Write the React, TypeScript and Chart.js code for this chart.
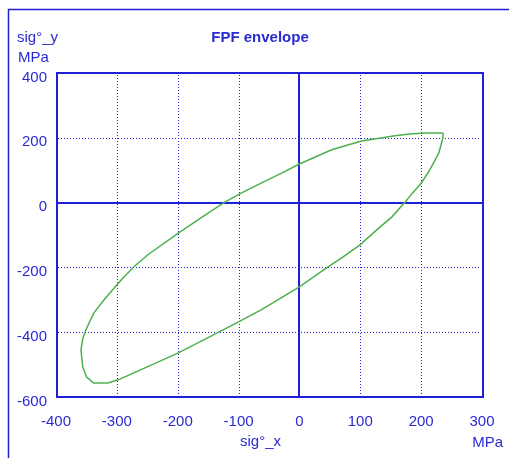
import React, { useEffect, useRef } from "react";
import { Chart, registerables } from "chart.js";

Chart.register(...registerables);

// Envelope outline (closed loop), MPa
const sigX = [
  236, 236, 233, 229, 214, 201, 186, 173, 152, 127, 99, 70, 44, 0, -63, -100, -150, -199, -250, -298,
  -315, -338, -350, -356, -359, -356, -351, -338, -321, -293, -272, -249, -199, -160, -124, -95, -63,
  -30, 0, 53, 102, 157, 181, 209, 236,
];
const sigY = [
  215, 203, 180, 153, 100, 62, 30, 0, -44, -84, -131, -170, -202, -260, -331, -368, -417, -464, -507,
  -547, -557, -557, -538, -507, -455, -420, -393, -341, -300, -239, -198, -161, -94, -45, 0, 30, 60,
  90, 119, 163, 190, 206, 212, 215, 215,
];
const xTicks = [-400, -300, -200, -100, 0, 100, 200, 300];
const yTicks = [-600, -400, -200, 0, 200, 400];
const titleText = "FPF envelope";
const xTitle = "sig°_x";
const yTitle = "sig°_y";
const unitText = "MPa";

const BLUE = "#1f1fd6";
const TEXT = "#2a2ad2";
const GREEN = "#4cb04c";
const FONT = "'Liberation Sans', Arial, sans-serif";

export default function App() {
  const ref = useRef<HTMLCanvasElement>(null);

  useEffect(() => {
    document.body.style.margin = "0";
    const canvas = ref.current;
    if (!canvas) return;

    const decor = {
      id: "decor",
      beforeDatasetsDraw(chart: any) {
        const { ctx, chartArea: a, scales } = chart;
        ctx.save();
        ctx.strokeStyle = BLUE;
        xTicks.forEach((v) => {
          if (v === xTicks[0] || v === xTicks[xTicks.length - 1]) return;
          const p = scales.x.getPixelForValue(v);
          if (v === 0) {
            ctx.setLineDash([]);
            ctx.lineWidth = 2;
            ctx.beginPath();
            ctx.moveTo(Math.round(p), a.top);
            ctx.lineTo(Math.round(p), a.bottom);
            ctx.stroke();
          } else {
            ctx.setLineDash([1, 2]);
            ctx.lineWidth = 1;
            ctx.beginPath();
            ctx.moveTo(Math.round(p) + 0.5, a.top + 2);
            ctx.lineTo(Math.round(p) + 0.5, a.bottom - 2);
            ctx.stroke();
          }
        });
        yTicks.forEach((v) => {
          if (v === yTicks[0] || v === yTicks[yTicks.length - 1]) return;
          const p = scales.y.getPixelForValue(v);
          if (v === 0) {
            ctx.setLineDash([]);
            ctx.lineWidth = 2;
            ctx.beginPath();
            ctx.moveTo(a.left, Math.round(p));
            ctx.lineTo(a.right, Math.round(p));
            ctx.stroke();
          } else {
            ctx.setLineDash([1, 2]);
            ctx.lineWidth = 1;
            ctx.beginPath();
            ctx.moveTo(a.left + 2, Math.round(p) + 0.5);
            ctx.lineTo(a.right - 3, Math.round(p) + 0.5);
            ctx.stroke();
          }
        });
        ctx.restore();
      },
      afterDraw(chart: any) {
        const { ctx, chartArea: a } = chart;
        ctx.save();
        ctx.strokeStyle = BLUE;
        ctx.lineWidth = 2;
        ctx.setLineDash([]);
        ctx.strokeRect(Math.round(a.left) + 1, Math.round(a.top), Math.round(a.right - a.left), Math.round(a.bottom - a.top));
        // outer frame
        ctx.lineWidth = 1.5;
        ctx.beginPath();
        ctx.moveTo(8.5, 458);
        ctx.lineTo(8.5, 9.5);
        ctx.lineTo(509, 9.5);
        ctx.stroke();

        ctx.fillStyle = TEXT;
        ctx.textBaseline = "alphabetic";
        ctx.font = `bold 15px ${FONT}`;
        ctx.textAlign = "center";
        ctx.fillText(titleText, 260, 41.5);
        ctx.font = `15px ${FONT}`;
        ctx.textAlign = "left";
        ctx.fillText(yTitle, 17, 42);
        ctx.fillText(unitText, 18, 62);
        ctx.textAlign = "center";
        ctx.fillText(xTitle, 260.5, 446);
        ctx.textAlign = "right";
        ctx.fillText(unitText, 503, 446.5);
        ctx.restore();
      },
    };

    const chart = new Chart(canvas, {
      type: "scatter",
      data: {
        datasets: [
          {
            data: sigX.map((x, i) => ({ x, y: sigY[i] })),
            showLine: true,
            borderColor: GREEN,
            backgroundColor: GREEN,
            borderWidth: 1.5,
            pointRadius: 0,
            tension: 0,
            fill: false,
          },
        ],
      },
      options: {
        animation: false,
        responsive: false,
        devicePixelRatio: 1,
        layout: { padding: { top: 73, right: 27, left: 0, bottom: 0 } },
        plugins: {
          legend: { display: false },
          tooltip: { enabled: false },
          title: { display: false },
        },
        scales: {
          x: {
            type: "linear",
            min: -400,
            max: 300,
            afterBuildTicks: (s: any) => {
              s.ticks = xTicks.map((value) => ({ value }));
            },
            afterFit: (s: any) => {
              s.height = 61;
              s.paddingLeft = 0;
              s.paddingRight = 0;
            },
            grid: { display: false, drawTicks: false },
            border: { display: false },
            ticks: {
              color: TEXT,
              font: { family: FONT, size: 15 },
              padding: 16,
              maxRotation: 0,
              autoSkip: false,
            },
          },
          y: {
            type: "linear",
            min: -600,
            max: 400,
            afterBuildTicks: (s: any) => {
              s.ticks = yTicks.map((value) => ({ value }));
            },
            afterFit: (s: any) => {
              s.width = 56;
              s.paddingTop = 0;
              s.paddingBottom = 0;
            },
            grid: { display: false, drawTicks: false },
            border: { display: false },
            ticks: {
              color: TEXT,
              font: { family: FONT, size: 15 },
              padding: 9,
              labelOffset: 4.5,
              autoSkip: false,
            },
          },
        },
      },
      plugins: [decor],
    });
    return () => chart.destroy();
  }, []);

  return <canvas ref={ref} width={509} height={458} style={{ display: "block" }} />;
}
